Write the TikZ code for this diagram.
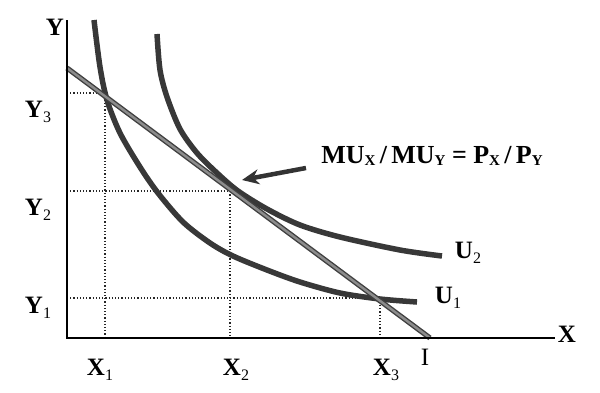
\documentclass[tikz,border=0pt]{standalone}
\usepackage{fontspec}
\setmainfont{Liberation Serif}
\usetikzlibrary{arrows.meta}
\newcommand\lbl[2]{\textbf{#1}\raisebox{-5pt}{\fontsize{16}{16}\selectfont #2}}
\newcommand\eqsub[1]{\raisebox{-2pt}{\fontsize{15}{15}\selectfont\textbf{#1}}}
\begin{document}
\begin{tikzpicture}[x=1pt,y=-1pt,
  lab/.style={inner sep=0pt, font=\fontsize{25}{25}\selectfont},
  axis/.style={line width=2.4pt, line cap=butt},
  guide/.style={line width=1.2pt, dotted, black!85},
  curve/.style={line width=5.5pt, draw=black!78},
  budget/.style={line width=1.4pt, draw=black!75, double=black!45, double distance=2.4pt},
  pointer/.style={line width=4.5pt, draw=black!80, -{Stealth[length=17pt,width=15pt]}}]
\useasboundingbox (0,0) rectangle (600,392);
% key points
\coordinate (O) at (67,338);
\coordinate (ytop) at (67,20);
\coordinate (xend) at (555,338);
\coordinate (p1) at (105,93);
\coordinate (p2) at (230,191);
\coordinate (p3) at (380,298);
\coordinate (y1a) at (67,298);
\coordinate (y2a) at (67,191);
\coordinate (y3a) at (67,93);
\coordinate (x1a) at (105,338);
\coordinate (x2a) at (230,338);
\coordinate (x3a) at (380,338);
\coordinate (bstart) at (67,68);
\coordinate (bend) at (430,338);
% guides
\draw[guide] (y3a) -- (p1) -- (x1a);
\draw[guide] (y2a) -- (p2) -- (x2a);
\draw[guide] (y1a) -- (p3) -- (x3a);
% indifference curves
\draw[curve] plot[smooth, tension=0.5] coordinates {(94,20) (100,67) (107,100) (120,133) (140,167) (158,193) (183,222) (210,243) (233,256) (267,270) (300,282) (340,293) (380,299) (417,302)};
\draw[curve] plot[smooth, tension=0.5] coordinates {(157,34) (160,70) (167,97) (180,129) (197,153) (217,173) (238,191) (267,209) (300,225) (340,237) (400,250) (442,256)};
% budget line
\draw[budget] (bstart) -- (bend);
% axes
\draw[axis] (ytop) -- (O) -- (xend);
% labels
\node[lab] (Y) at (55,27) {\textbf{Y}};
\node[lab] (X) at (567,334) {\textbf{X}};
\node[lab] (Y3) at (38,112) {\lbl{Y}{3}};
\node[lab] (Y2) at (38,210) {\lbl{Y}{2}};
\node[lab] (Y1) at (38,308) {\lbl{Y}{1}};
\node[lab] (X1) at (100,370) {\lbl{X}{1}};
\node[lab] (X2) at (236,370) {\lbl{X}{2}};
\node[lab] (X3) at (386,370) {\lbl{X}{3}};
\node[lab] (I) at (425,357) {I};
\node[lab] (U1) at (448,298) {\lbl{U}{1}};
\node[lab] (U2) at (468,253) {\lbl{U}{2}};
\node[lab, font=\fontsize{26}{26}\selectfont] (eq) at (432,156) {\textbf{MU}\eqsub{X}\textbf{\,/\,MU}\eqsub{Y}\textbf{ = P}\eqsub{X}\textbf{\,/\,P}\eqsub{Y}};
% pointer
\coordinate (arrtail) at (306,168);
\coordinate (arrtip) at (242,180);
\draw[pointer] (arrtail) -- (arrtip);
\end{tikzpicture}
\end{document}
